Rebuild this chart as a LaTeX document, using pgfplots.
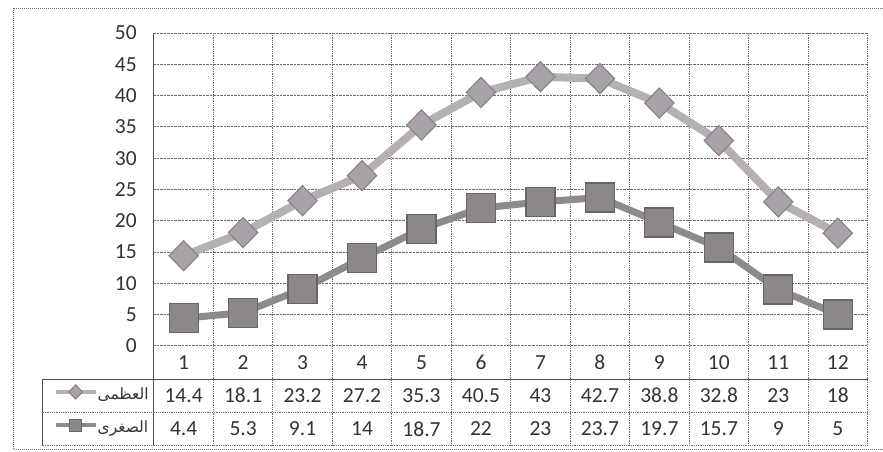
\documentclass[border=0pt]{standalone}
\usepackage{pgfplots}
\pgfplotsset{compat=1.18}
\usepackage{pgfplotstable}
\usepackage{fontspec}
\setmainfont{Carlito}
\newfontfamily\arabicfont[Script=Arabic]{DejaVu Sans}
\TeXXeTstate=1
\definecolor{maxline}{HTML}{B6AFB6}
\definecolor{maxfill}{HTML}{A9A2A9}
\definecolor{maxedge}{HTML}{8A848A}
\definecolor{minline}{HTML}{8D898D}
\definecolor{minfill}{HTML}{8C878B}
\definecolor{minedge}{HTML}{686468}
\definecolor{gridc}{HTML}{6E6E6E}
\definecolor{txt}{HTML}{333333}

\pgfplotstableread{
x max min
1 14.4 4.4
2 18.1 5.3
3 23.2 9.1
4 27.2 14
5 35.3 18.7
6 40.5 22
7 43 23
8 42.7 23.7
9 38.8 19.7
10 32.8 15.7
11 23 9
12 18 5
}\data

\begin{document}
\begin{tikzpicture}
\begin{axis}[
  scale only axis, width=714pt, height=313pt,
  xmin=0.5, xmax=12.5, ymin=0, ymax=50,
  clip=false,
  axis line style={draw=none},
  xtick=\empty,
  ytick={0,5,...,50},
  major tick length=0pt,
  /pgf/number format/assume math mode=true,
  yticklabel style={font=\fontsize{21.5}{25}\selectfont, text=txt, inner sep=0pt, xshift=-17pt},
  ymajorgrids, grid style={gridc, densely dotted, line width=0.8pt},
  legend style={at={(axis cs:0.5,-5.32)}, anchor=north east, xshift=-5pt,
    draw=none, fill=none, inner sep=0pt, row sep=0pt,
    font=\arabicfont\fontsize{15.5}{18}\selectfont, text=txt,
    nodes={inner sep=0pt, text height=20pt, text depth=13.3pt}},
  legend cell align=left,
  legend image code/.code={\draw[#1, mark repeat=2, mark phase=2] plot coordinates {(0pt,4pt) (20pt,4pt) (40pt,4pt)};},
]
% grid and table lines
\pgfplotsinvokeforeach{1.5,2.5,...,12.5}{
  \draw[gridc, densely dotted, line width=0.8pt] (axis cs:#1,50) -- (axis cs:#1,-15.96);
}
\draw[gridc!70!black, line width=1pt] (axis cs:0.5,50) -- (axis cs:0.5,-15.96);
\draw[gridc!70!black, line width=1pt] (axis cs:-1.366,-5.32) -- (axis cs:12.5,-5.32);
\draw[gridc, densely dotted, line width=0.8pt] (axis cs:-1.366,-10.64) -- (axis cs:12.5,-10.64);
\draw[gridc, densely dotted, line width=0.8pt] (axis cs:-1.366,-15.96) -- (axis cs:12.5,-15.96);
\draw[gridc!70!black, line width=1pt] (axis cs:-1.366,-5.32) -- (axis cs:-1.366,-15.96);

\addplot[draw=maxline, line width=8pt, mark=diamond*, mark size=15pt,
  mark options={fill=maxfill, draw=maxedge, line width=1.2pt, xscale=1.3},
  legend image post style={line width=4pt, mark size=7pt}]
  table[x=x, y=max] {\data};
\addlegendentry{\beginR العظمى\endR}
\addplot[draw=minline, line width=7pt, mark=square*, mark size=14.5pt,
  mark options={fill=minfill, draw=minedge, line width=1.2pt},
  legend image post style={line width=4pt, mark size=6pt}]
  table[x=x, y=min] {\data};
\addlegendentry{\beginR الصغرى\endR}

% table text
\pgfplotsforeachungrouped \i in {0,...,11}{
  \pgfplotstablegetelem{\i}{max}\of\data \let\vmax\pgfplotsretval
  \pgfplotstablegetelem{\i}{min}\of\data \let\vmin\pgfplotsretval
  \pgfmathtruncatemacro\xx{\i+1}
  \edef\temp{\noexpand\node[font=\noexpand\fontsize{21.5}{25}\noexpand\selectfont, text=txt, inner sep=0pt] at (axis cs:\xx,-2.66) {\xx};
    \noexpand\node[font=\noexpand\fontsize{21.5}{25}\noexpand\selectfont, text=txt, inner sep=0pt] at (axis cs:\xx,-7.98) {\vmax};
    \noexpand\node[font=\noexpand\fontsize{21.5}{25}\noexpand\selectfont, text=txt, inner sep=0pt] at (axis cs:\xx,-13.3) {\vmin};}
  \temp
}
\coordinate (sw) at (rel axis cs:0,0);
\coordinate (ne) at (rel axis cs:1,1);
\coordinate (ftl) at ([shift={(-140pt,24pt)}]rel axis cs:0,1);
\coordinate (ftr) at ([shift={(15pt,24pt)}]rel axis cs:1,1);
\coordinate (fbl) at ([shift={(-140pt,-104pt)}]rel axis cs:0,0);
\coordinate (fbr) at ([shift={(15pt,-104pt)}]rel axis cs:1,0);
\end{axis}
\draw[gridc, densely dotted, line width=1pt] (ftr) -- (ftl) -- (fbl) -- (fbr);
\path[use as bounding box] ([shift={(-154pt,-106pt)}]sw) rectangle ([shift={(15pt,33pt)}]ne);
\end{tikzpicture}
\end{document}
